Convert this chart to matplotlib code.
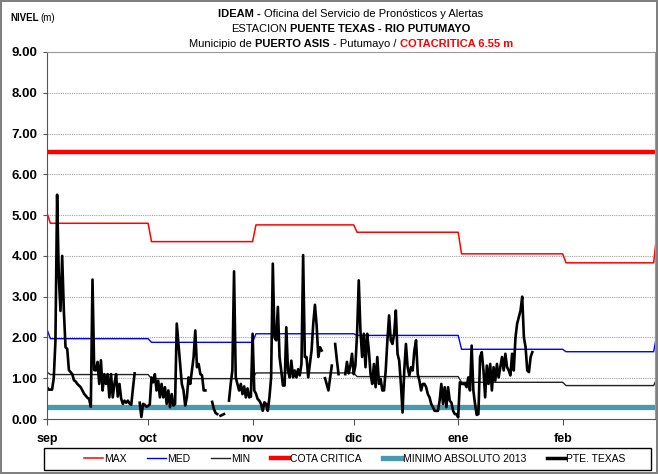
import numpy as np
import matplotlib
matplotlib.use("Agg")
import matplotlib.pyplot as plt
from matplotlib.lines import Line2D
from matplotlib.patches import Rectangle

plt.rcParams['font.family'] = ['Liberation Sans Narrow', 'Liberation Sans', 'DejaVu Sans']

# months on the x axis (day 0 = 1 sep)
month_labels = ['sep', 'oct', 'nov', 'dic', 'ene', 'feb']
month_start = [0, 30, 61, 91, 122, 153]

# monthly reference curves (break points in days)
curve_days = [0, 1, 30, 31, 61, 62, 91, 92, 122, 123, 153, 154, 180, 181]
nivel_max = [5.05, 4.80, 4.80, 4.35, 4.35, 4.76, 4.76, 4.58, 4.58, 4.05, 4.05, 3.83, 3.83, 4.60]
nivel_med = [2.20, 1.97, 1.97, 1.88, 1.88, 2.09, 2.09, 2.05, 2.05, 1.71, 1.71, 1.65, 1.65, 2.10]
nivel_min = [1.15, 1.09, 1.09, 0.99, 0.99, 1.13, 1.13, 1.04, 1.04, 0.90, 0.90, 0.82, 0.82, 1.00]

cota_critica = 6.55
minimo_2013 = 0.30

# PTE. TEXAS readings, two per day (None = no reading)
pte_sep = [0.78, 0.72, 0.72, 0.72, 1.00, 1.90, 5.50, 3.50, 2.65, 4.00,
           2.65, 1.76, 1.72, 1.20, 1.15, 1.10, 0.95, 0.92, 0.86, 0.82,
           0.78, 0.70, 0.62, 0.57, 0.52, 0.49, 0.30, 3.42, 1.20, 1.19,
           1.40, 0.86, 1.44, 0.70, 1.10, 0.86, 1.10, 0.53, 1.10, 0.53,
           0.86, 1.10, 0.55, 0.86, 0.50, 0.37, 0.45, 0.40, 0.45, 0.38,
           0.35, 0.75, 1.12, None, None, 0.40, 0.05, 0.37, 0.35, 0.30]
pte_oct = [0.32, 0.36, 1.02, 0.90, 1.10, 0.70, 0.94, 0.53, 0.86, 0.53,
           0.78, 0.37, 0.70, 0.29, 0.61, 0.33, 0.37, 2.34, 1.84, 1.35,
           0.86, 0.70, 0.33, 0.53, 1.02, 0.86, 1.19, 1.52, 2.17, 1.27,
           1.35, 1.10, 1.07, 0.70, 0.70, None, None, None, 0.42, 0.25,
           0.15, 0.12, None, 0.08, 0.10, 0.12, None, None, 0.45, 0.86,
           1.19, 3.62, 1.02, 0.86, 0.70, 0.86, 0.61, 0.80, 0.53, 0.75,
           0.53, 0.55]
pte_nov = [2.09, 0.70, 0.62, 0.49, 0.45, 0.37, 0.20, 0.41, 0.37, 0.20,
           0.53, 1.02, 3.81, 2.00, 1.93, 2.75, 1.52, 1.19, 0.82, 0.82,
           2.25, 1.19, 1.02, 1.43, 1.02, 1.19, 1.02, 1.22, 1.07, 1.35,
           4.02, 1.52, 1.52, 1.02, 1.35, 1.68, 2.34, 2.80, 2.30, 1.52,
           1.76, 1.68, None, 1.00, 0.85, 0.70, 1.00, 1.31, None, 1.84,
           1.45, 1.10, None, None, None, 1.10, 1.40, 1.12, 1.30, 1.60]
pte_dic = [1.10, 1.31, 2.09, 3.40, 2.17, 1.52, 2.09, 1.27, 2.09, 1.68,
           1.10, 0.86, 1.35, 0.78, 1.52, 0.86, 0.98, 0.70, 0.70, 1.19,
           1.93, 2.54, 1.93, 1.84, 2.09, 2.66, 1.60, 1.43, 0.86, 0.16,
           1.19, 1.84, 1.27, 1.07, 1.27, 1.19, 1.68, 1.93, 1.10, 0.94,
           0.70, 0.86, 0.86, 0.78, 0.61, 0.53, 0.37, 0.29, 0.20, 0.20,
           0.20, 0.45, 0.86, 0.37, 0.78, 0.29, 0.78, 0.45, 0.40, 0.20,
           0.12, 0.12]
pte_ene = [0.04, 0.90, 0.86, 0.86, 0.86, 0.78, 1.02, 0.70, 1.80, 0.70,
           0.37, 0.10, 0.12, 1.52, 1.64, 1.19, 0.53, 1.31, 0.86, 1.35,
           0.70, 1.27, 0.94, 1.35, 1.02, 1.27, 1.52, 1.19, 1.60, 1.27,
           1.19, 1.07, 1.60, 1.19, 2.00, 2.34, 2.50, 2.66, 3.00, 2.00,
           1.76, 1.19, 1.15, 1.52, 1.64]

pte = np.array(pte_sep + pte_oct + pte_nov + pte_dic + pte_ene, dtype=float)
pte_days = np.arange(len(pte)) * 0.5

W, H = 658, 474
fig = plt.figure(figsize=(W / 100, H / 100), dpi=100)
fig.patch.set_edgecolor('#808080')
fig.patch.set_linewidth(1.5)

ax = fig.add_axes([47 / W, 1 - 419 / H, (655 - 47) / W, (419 - 52) / H])

ax.plot(curve_days, nivel_max, color='#ff0000', lw=1.1)
ax.plot(curve_days, nivel_med, color='#0000ff', lw=1.0)
ax.plot(curve_days, nivel_min, color='#222222', lw=1.0)
ax.axhline(cota_critica, color='#ff0000', lw=3.2)
ax.axhline(minimo_2013, color='#4a9aae', lw=3.8)
ax.plot(pte_days, pte, color='black', lw=1.9)

ax.set_xlim(0, 180.4)
ax.set_ylim(0, 9)
ax.set_yticks(np.arange(0, 10))
ax.set_yticklabels(['%.2f' % v for v in range(10)], fontweight='bold', fontsize=9.5)
ax.set_xticks(month_start)
ax.set_xticklabels(month_labels, fontweight='bold', fontsize=9)
ax.tick_params(axis='y', length=3, color='#555555', pad=4)
ax.tick_params(axis='x', length=4, color='#555555', pad=6)

for v in range(1, 9):
    ax.axhline(v, color='#a0a0a0', lw=0.8, ls=(0, (1, 1)), zorder=0)

for side in ['left', 'bottom']:
    ax.spines[side].set_color('#555555')
for side in ['top', 'right']:
    ax.spines[side].set_color('#999999')

# legend along the bottom: entries spread inside a wider box
handles = [Line2D([], [], color='#ff0000', lw=1.1),
           Line2D([], [], color='#0000ff', lw=1.0),
           Line2D([], [], color='#222222', lw=1.0),
           Line2D([], [], color='#ff0000', lw=3.2),
           Line2D([], [], color='#4a9aae', lw=3.8),
           Line2D([], [], color='black', lw=2.5)]
labels = ['MAX', 'MED', 'MIN', 'COTA CRITICA', 'MINIMO ABSOLUTO 2013', 'PTE. TEXAS']
fig.legend(handles, labels, loc='center', ncol=6, mode='expand',
           bbox_to_anchor=(80 / W, 1 - 470 / H, (630 - 80) / W, 22 / H),
           frameon=False, fontsize=7.5, handlelength=1.8, handletextpad=0.1,
           borderaxespad=0, borderpad=0.4)
fig.patches.append(Rectangle((44 / W, 1 - 470 / H), (651 - 44) / W, 22 / H,
                             transform=fig.transFigure, fill=False,
                             edgecolor='black', lw=1.0))

# title lines with mixed weights
renderer = fig.canvas.get_renderer()
TSIZE = 8
probe = fig.text(0, 0, 'x x', fontsize=TSIZE)
probe2 = fig.text(0, 0, 'xx', fontsize=TSIZE)
space_w = probe.get_window_extent(renderer).width - probe2.get_window_extent(renderer).width
probe.remove()
probe2.remove()


def rich_line(y, parts, size=TSIZE, cx=(47 + 655) / 2):
    texts = []
    for s, weight, color in parts:
        t = fig.text(0, 1 - y / H, s.strip(), fontsize=size, fontweight=weight,
                     color=color, ha='left', va='center')
        texts.append((t, s))
    total = 0
    widths = []
    for t, s in texts:
        w = t.get_window_extent(renderer).width
        gap = space_w if s.endswith(' ') else 0
        widths.append(w + gap)
        total += w + gap
    x = cx - total / 2
    for (t, s), w in zip(texts, widths):
        t.set_x(x / W)
        x += w


rich_line(14, [('IDEAM - ', 'bold', 'black'),
               ('Oficina del Servicio de Pronósticos y Alertas', 'normal', 'black')])
rich_line(29, [('ESTACION ', 'normal', 'black'),
               ('PUENTE TEXAS - RIO PUTUMAYO', 'bold', 'black')])
rich_line(44, [('Municipio de ', 'normal', 'black'),
               ('PUERTO ASIS ', 'bold', 'black'),
               ('- Putumayo / ', 'normal', 'black'),
               ('COTACRITICA 6.55 m', 'bold', '#ff0000')])

fig.text(10 / W, 1 - 18 / H, 'NIVEL', fontsize=7, fontweight='bold', va='center')
fig.text(40 / W, 1 - 18 / H, '(m)', fontsize=7, va='center')

fig.savefig('out.png', dpi=100, edgecolor=fig.get_edgecolor())
